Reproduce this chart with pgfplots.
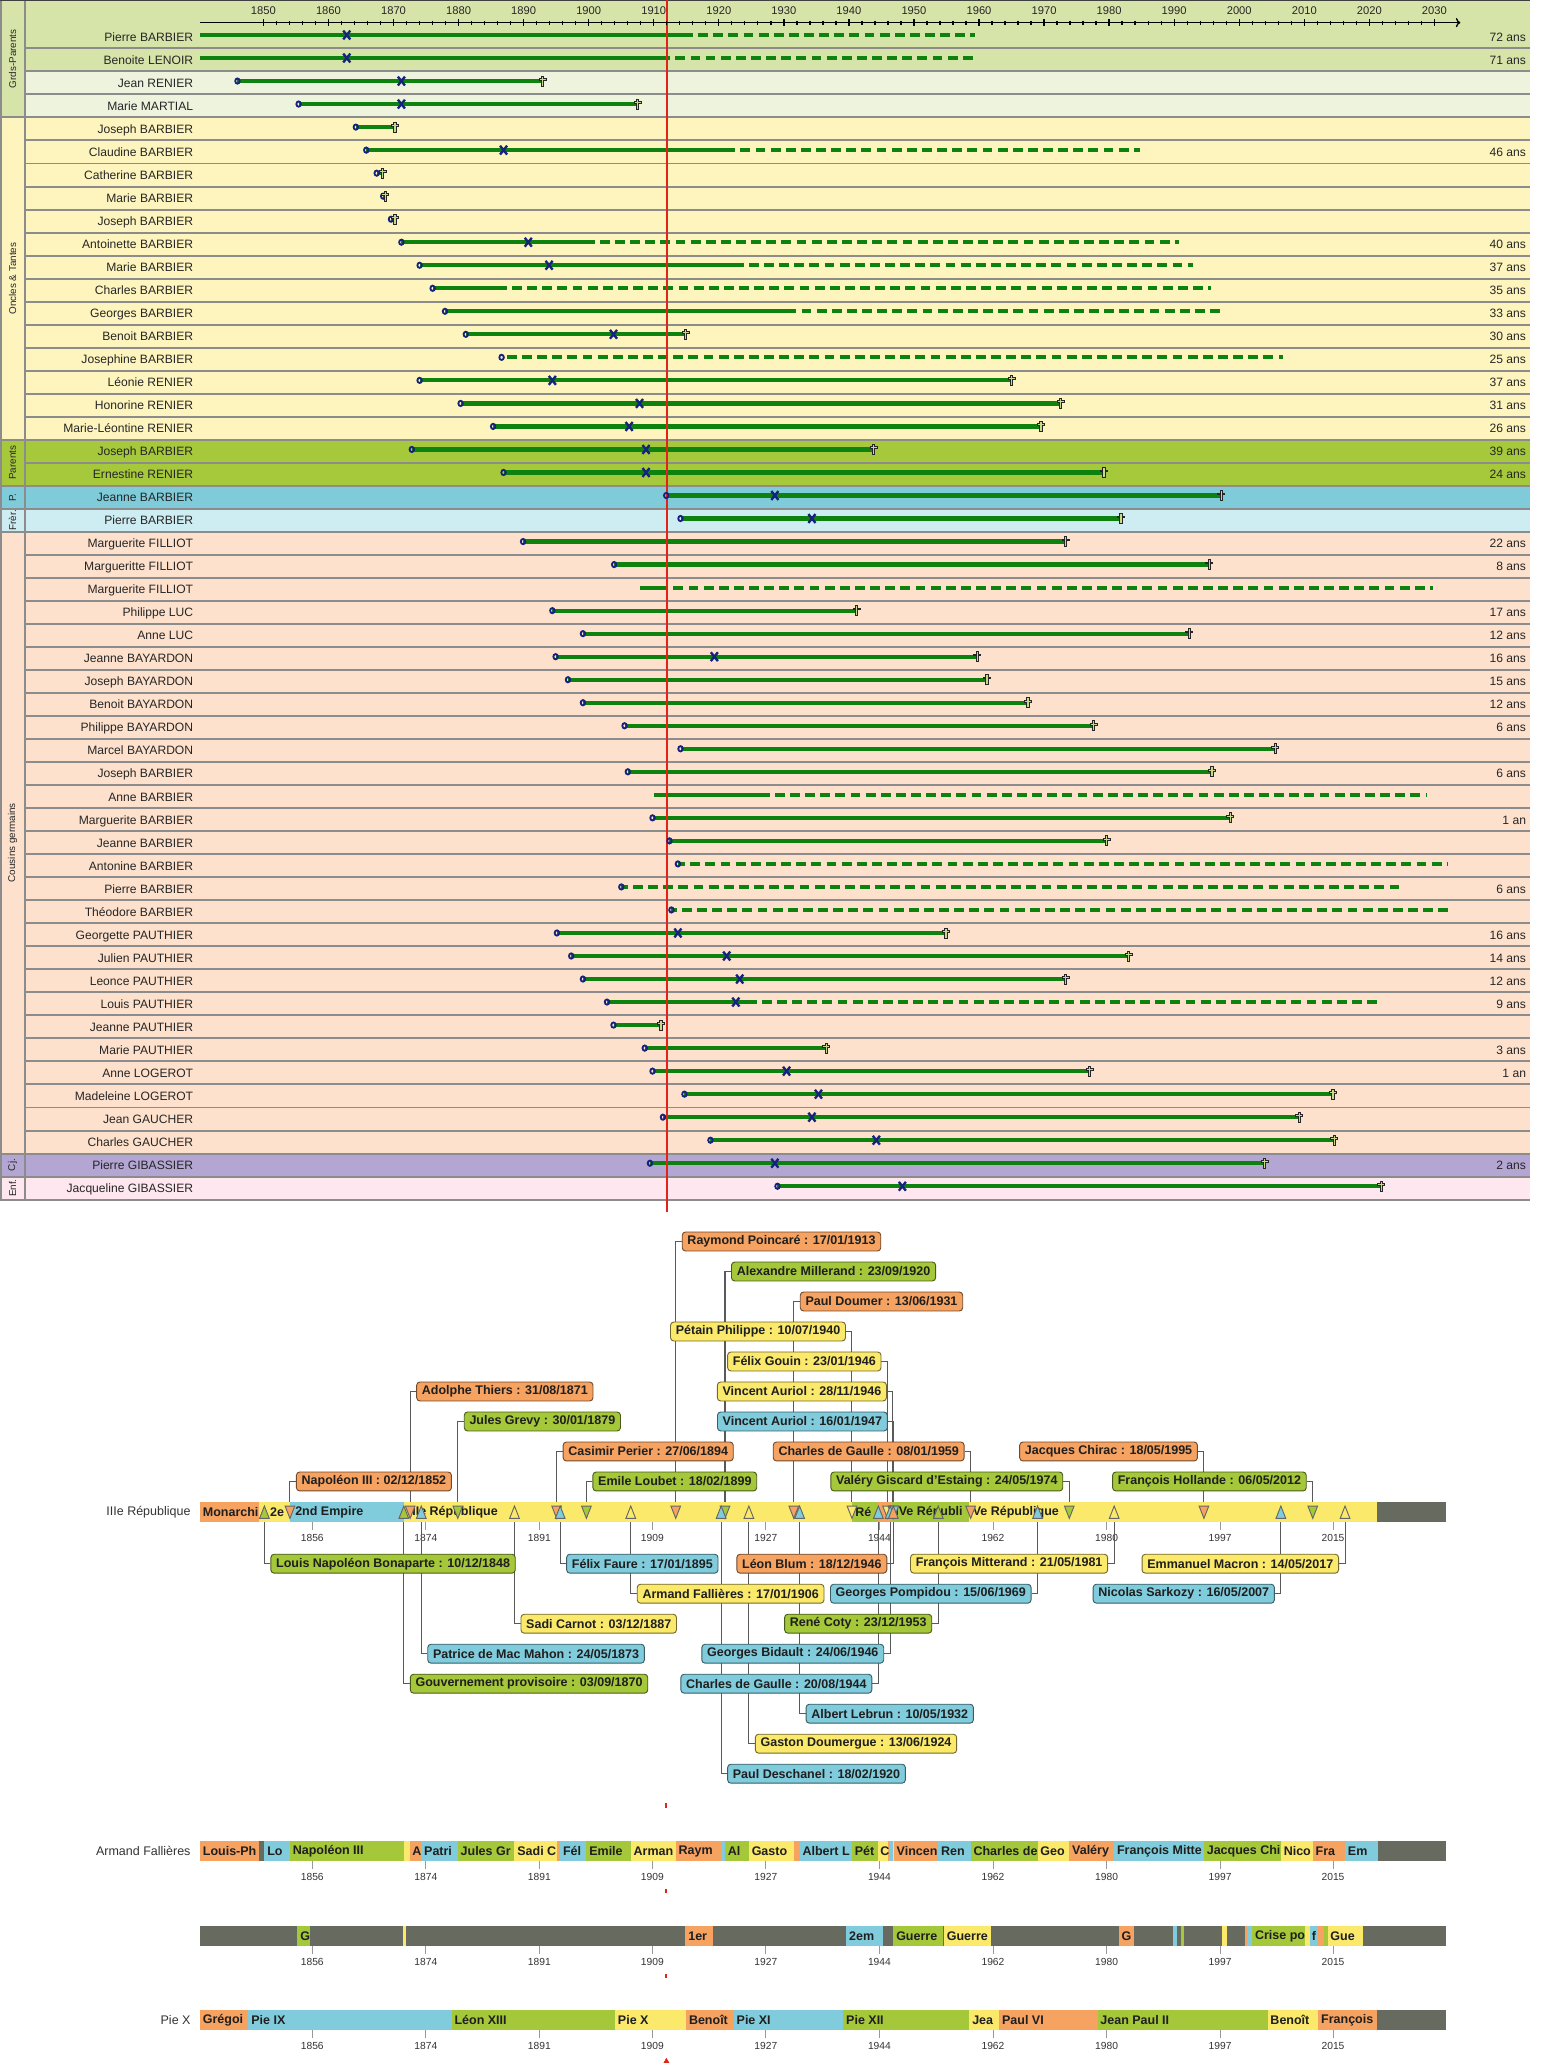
\documentclass[border=0pt]{standalone}
\usepackage{fontspec}
\setmainfont{Liberation Sans}
\usepackage{pgfplots}
\pgfplotsset{compat=1.18}
\usetikzlibrary{arrows.meta}

\definecolor{gpA}{HTML}{D7E4A9}
\definecolor{gpB}{HTML}{EEF3DE}
\definecolor{otC}{HTML}{FEF5BE}
\definecolor{parC}{HTML}{A6C83B}
\definecolor{ppC}{HTML}{7FCBDA}
\definecolor{frC}{HTML}{CDEDF3}
\definecolor{cgC}{HTML}{FDE1CC}
\definecolor{cjC}{HTML}{B3A6D3}
\definecolor{enfC}{HTML}{FEE7EF}
\definecolor{sepC}{HTML}{8C8C8C}
\definecolor{lgreen}{HTML}{0E820E}
\definecolor{navy}{HTML}{16237E}
\definecolor{crossfill}{HTML}{C9D98A}
\definecolor{cO}{HTML}{F6A261}
\definecolor{cG}{HTML}{A5C73A}
\definecolor{cB}{HTML}{80CCDC}
\definecolor{cY}{HTML}{FBE96B}
\definecolor{cK}{HTML}{676A5E}
\definecolor{redL}{HTML}{E2231A}

\pgfdeclareplotmark{lcross}{%
  \pgfpathmoveto{\pgfqpoint{-0.22\pgfplotmarksize}{-1\pgfplotmarksize}}%
  \pgfpathlineto{\pgfqpoint{0.22\pgfplotmarksize}{-1\pgfplotmarksize}}%
  \pgfpathlineto{\pgfqpoint{0.22\pgfplotmarksize}{0.15\pgfplotmarksize}}%
  \pgfpathlineto{\pgfqpoint{0.7\pgfplotmarksize}{0.15\pgfplotmarksize}}%
  \pgfpathlineto{\pgfqpoint{0.7\pgfplotmarksize}{0.5\pgfplotmarksize}}%
  \pgfpathlineto{\pgfqpoint{0.22\pgfplotmarksize}{0.5\pgfplotmarksize}}%
  \pgfpathlineto{\pgfqpoint{0.22\pgfplotmarksize}{1\pgfplotmarksize}}%
  \pgfpathlineto{\pgfqpoint{-0.22\pgfplotmarksize}{1\pgfplotmarksize}}%
  \pgfpathlineto{\pgfqpoint{-0.22\pgfplotmarksize}{0.5\pgfplotmarksize}}%
  \pgfpathlineto{\pgfqpoint{-0.7\pgfplotmarksize}{0.5\pgfplotmarksize}}%
  \pgfpathlineto{\pgfqpoint{-0.7\pgfplotmarksize}{0.15\pgfplotmarksize}}%
  \pgfpathlineto{\pgfqpoint{-0.22\pgfplotmarksize}{0.15\pgfplotmarksize}}%
  \pgfpathclose
  \pgfusepathqfillstroke}

\newcommand{\rect}[5]{\addplot[fill=#1, draw=none] coordinates {(#2,#3) (#4,#3) (#4,#5) (#2,#5)};}
\newcommand{\nm}[2]{\node[anchor=base east, inner sep=0pt, font=\fontsize{9.2}{10}\selectfont, text=black!85, yshift=-3.3pt] at (axis cs:1839.23,#1) {#2};}
\newcommand{\ag}[2]{\node[anchor=base east, inner sep=0pt, font=\fontsize{9.2}{10}\selectfont, text=black!85, yshift=-3.3pt] at (axis cs:2044.1,#1) {#2};}
\newcommand{\grp}[2]{\node[rotate=90, inner sep=0pt, font=\fontsize{7.5}{8}\selectfont, text=black!85] at (axis cs:1811.42,#1) {#2};}
\newcommand{\seg}[3]{\addplot[fill=#1, draw=none] coordinates {(#2,0) (#3,0) (#3,15.3) (#2,15.3)};}
\newcommand{\stx}[2]{\node[anchor=west, inner sep=0pt, font=\bfseries\fontsize{9.5}{10}\selectfont, text=black!88, xshift=2pt] at (axis cs:#1,7.65) {#2};}
\tikzset{lbl/.style={fill=#1, draw=#1!45!black, rounded corners=2.5pt, line width=0.7pt, inner xsep=4pt, inner ysep=0pt, minimum height=14.4pt, font=\bfseries\fontsize{9.5}{10}\selectfont, text=black!88}}
\newcommand{\bx}[5]{\node[lbl=#1, anchor=#2] at (axis cs:#3,#4) {#5};}
\newcommand{\leftlab}[1]{\node[anchor=east, inner sep=0pt, font=\fontsize{9.5}{10}\selectfont, text=black!80, xshift=-7pt] at (rel axis cs:0,0.5) {#1};}

\pgfplotsset{
  gline/.style={draw=lgreen, line width=3.2pt, yshift=1.4pt},
  gdash/.style={draw=lgreen, line width=3.2pt, dash pattern=on 7.5pt off 4pt, dash phase=7.5pt, yshift=1.4pt},
  bandax/.style={scale only axis, width=947pt, height=15.3pt, xmin=1838.9, xmax=2033.1, ymin=0, ymax=15.3,
    clip=false, axis y line=none, axis x line*=bottom, x axis line style={draw=none},
    tick align=outside, major tick length=6pt,
    xtick={1856.4,1874.1,1891.8,1909.4,1927.1,1944.8,1962.5,1980.2,1997.9,2015.5},
    xticklabels={1856,1874,1891,1909,1927,1944,1962,1980,1997,2015},
    xtick style={draw=black!40, line width=0.6pt},
    xticklabel style={font=\fontsize{7.8}{8}\selectfont, text=black!80},
    unbounded coords=jump}
}

\begin{document}
\begin{tikzpicture}[x=1pt,y=1pt]
\useasboundingbox (0pt,0pt) rectangle (1173pt,-1568pt);

% ================= TOP FAMILY CHART =================
\begin{axis}[at={(0pt,0pt)}, anchor=north west, scale only axis, width=1163pt, height=911.75pt,
  xmin=1809.5, xmax=2044.7, ymin=-0.6, ymax=51.5, y dir=reverse, hide axis, clip=false,
  unbounded coords=jump]
\rect{gpA}{1809.5}{-0.6}{2044.7}{2.5}
\rect{gpA}{1809.5}{2.5}{1813.34}{4.5}
\rect{gpB}{1813.34}{2.5}{2044.7}{4.5}
\rect{otC}{1809.5}{4.5}{2044.7}{18.5}
\rect{parC}{1809.5}{18.5}{2044.7}{20.5}
\rect{ppC}{1809.5}{20.5}{2044.7}{21.5}
\rect{frC}{1809.5}{21.5}{2044.7}{22.5}
\rect{cgC}{1809.5}{22.5}{2044.7}{49.5}
\rect{cjC}{1809.5}{49.5}{2044.7}{50.5}
\rect{enfC}{1809.5}{50.5}{2044.7}{51.5}
\pgfplotsinvokeforeach{1,...,50}{\addplot[sepC, line width=1.5pt] coordinates {(1813.34,#1.5) (2044.7,#1.5)};}
\addplot[sepC, line width=1.5pt] coordinates {(1809.5,4.5)(1813.34,4.5) (nan,nan) (1809.5,18.5)(1813.34,18.5) (nan,nan)
  (1809.5,20.5)(1813.34,20.5) (nan,nan) (1809.5,21.5)(1813.34,21.5) (nan,nan) (1809.5,22.5)(1813.34,22.5) (nan,nan)
  (1809.5,49.5)(1813.34,49.5) (nan,nan) (1809.5,50.5)(1813.34,50.5) (nan,nan) (1809.5,51.5)(2044.7,51.5) (nan,nan)
  (1813.34,-0.6)(1813.34,51.5) (nan,nan) (1809.6,-0.6)(1809.6,51.5)};
\addplot[black!75, line width=1.5pt] coordinates {(1809.5,-0.6)(2044.7,-0.6)};

\grp{1.95}{Grds-Parents}
\grp{11.5}{Oncles \& Tantes}
\grp{19.5}{Parents}
\grp{21}{P.}
\grp{22}{Frèr.}
\grp{36}{Cousins germains}
\grp{50}{Cj.}
\grp{51}{Enf.}

\nm{1}{Pierre BARBIER}
\nm{2}{Benoite LENOIR}
\nm{3}{Jean RENIER}
\nm{4}{Marie MARTIAL}
\nm{5}{Joseph BARBIER}
\nm{6}{Claudine BARBIER}
\nm{7}{Catherine BARBIER}
\nm{8}{Marie BARBIER}
\nm{9}{Joseph BARBIER}
\nm{10}{Antoinette BARBIER}
\nm{11}{Marie BARBIER}
\nm{12}{Charles BARBIER}
\nm{13}{Georges BARBIER}
\nm{14}{Benoit BARBIER}
\nm{15}{Josephine BARBIER}
\nm{16}{Léonie RENIER}
\nm{17}{Honorine RENIER}
\nm{18}{Marie-Léontine RENIER}
\nm{19}{Joseph BARBIER}
\nm{20}{Ernestine RENIER}
\nm{21}{Jeanne BARBIER}
\nm{22}{Pierre BARBIER}
\nm{23}{Marguerite FILLIOT}
\nm{24}{Margueritte FILLIOT}
\nm{25}{Marguerite FILLIOT}
\nm{26}{Philippe LUC}
\nm{27}{Anne LUC}
\nm{28}{Jeanne BAYARDON}
\nm{29}{Joseph BAYARDON}
\nm{30}{Benoit BAYARDON}
\nm{31}{Philippe BAYARDON}
\nm{32}{Marcel BAYARDON}
\nm{33}{Joseph BARBIER}
\nm{34}{Anne BARBIER}
\nm{35}{Marguerite BARBIER}
\nm{36}{Jeanne BARBIER}
\nm{37}{Antonine BARBIER}
\nm{38}{Pierre BARBIER}
\nm{39}{Théodore BARBIER}
\nm{40}{Georgette PAUTHIER}
\nm{41}{Julien PAUTHIER}
\nm{42}{Leonce PAUTHIER}
\nm{43}{Louis PAUTHIER}
\nm{44}{Jeanne PAUTHIER}
\nm{45}{Marie PAUTHIER}
\nm{46}{Anne LOGEROT}
\nm{47}{Madeleine LOGEROT}
\nm{48}{Jean GAUCHER}
\nm{49}{Charles GAUCHER}
\nm{50}{Pierre GIBASSIER}
\nm{51}{Jacqueline GIBASSIER}

\ag{1}{72 ans}\ag{2}{71 ans}\ag{6}{46 ans}\ag{10}{40 ans}\ag{11}{37 ans}\ag{12}{35 ans}
\ag{13}{33 ans}\ag{14}{30 ans}\ag{15}{25 ans}\ag{16}{37 ans}\ag{17}{31 ans}\ag{18}{26 ans}
\ag{19}{39 ans}\ag{20}{24 ans}\ag{23}{22 ans}\ag{24}{8 ans}\ag{26}{17 ans}\ag{27}{12 ans}
\ag{28}{16 ans}\ag{29}{15 ans}\ag{30}{12 ans}\ag{31}{6 ans}\ag{33}{6 ans}\ag{35}{1 an}
\ag{38}{6 ans}\ag{40}{16 ans}\ag{41}{14 ans}\ag{42}{12 ans}\ag{43}{9 ans}\ag{45}{3 ans}
\ag{46}{1 an}\ag{50}{2 ans}

% solid life lines
\addplot[gline] coordinates {
(1840.3,1)(1916.0,1) (nan,nan) (1840.3,2)(1912.5,2) (nan,nan) (1846.0,3)(1892.9,3) (nan,nan)
(1855.4,4)(1907.5,4) (nan,nan) (1864.2,5)(1870.2,5) (nan,nan) (1865.8,6)(1922.5,6) (nan,nan)
(1867.4,7)(1868.3,7) (nan,nan) (1868.4,8)(1868.7,8) (nan,nan) (1869.6,9)(1870.2,9) (nan,nan)
(1871.2,10)(1900.9,10) (nan,nan) (1874.0,11)(1923.8,11) (nan,nan) (1876.0,12)(1887.4,12) (nan,nan)
(1877.9,13)(1931.9,13) (nan,nan) (1881.1,14)(1914.9,14) (nan,nan) (1874.0,16)(1965.0,16) (nan,nan)
(1880.3,17)(1972.5,17) (nan,nan) (1885.3,18)(1969.5,18) (nan,nan) (1872.8,19)(1943.8,19) (nan,nan)
(1886.9,20)(1979.2,20) (nan,nan) (1911.9,21)(1997.2,21) (nan,nan) (1914.1,22)(1981.8,22) (nan,nan)
(1889.9,23)(1973.3,23) (nan,nan) (1903.9,24)(1995.4,24) (nan,nan) (1907.9,25)(1912.2,25) (nan,nan)
(1894.4,26)(1941.2,26) (nan,nan) (1899.1,27)(1992.3,27) (nan,nan) (1894.9,28)(1959.7,28) (nan,nan)
(1896.8,29)(1961.2,29) (nan,nan) (1899.1,30)(1967.5,30) (nan,nan) (1905.5,31)(1977.6,31) (nan,nan)
(1914.1,32)(2005.5,32) (nan,nan) (1906.0,33)(1995.8,33) (nan,nan) (1910.0,34)(1927.8,34) (nan,nan)
(1909.8,35)(1998.6,35) (nan,nan) (1912.4,36)(1979.6,36) (nan,nan) (1913.7,37)(1914.8,37) (nan,nan)
(1905.0,38)(1906.0,38) (nan,nan) (1912.7,39)(1913.5,39) (nan,nan) (1895.1,40)(1954.9,40) (nan,nan)
(1897.3,41)(1983.0,41) (nan,nan) (1899.1,42)(1973.3,42) (nan,nan) (1902.8,43)(1925.8,43) (nan,nan)
(1903.8,44)(1911.1,44) (nan,nan) (1908.6,45)(1936.5,45) (nan,nan) (1909.8,46)(1977.0,46) (nan,nan)
(1914.7,47)(2014.4,47) (nan,nan) (1911.4,48)(2009.2,48) (nan,nan) (1918.7,49)(2014.6,49) (nan,nan)
(1909.4,50)(2003.9,50) (nan,nan) (1929.0,51)(2021.8,51)};
% uncertain (dashed) extensions
\addplot[gdash] coordinates {
(1916.0,1)(1959.3,1) (nan,nan) (1912.5,2)(1959.7,2) (nan,nan) (1922.5,6)(1984.8,6) (nan,nan)
(1900.9,10)(1990.7,10) (nan,nan) (1923.8,11)(1992.8,11) (nan,nan) (1887.4,12)(1995.6,12) (nan,nan)
(1931.9,13)(1997.0,13) (nan,nan) (1886.6,15)(2006.7,15) (nan,nan) (1912.2,25)(2029.8,25) (nan,nan)
(1927.8,34)(2028.8,34) (nan,nan) (1914.8,37)(2032.0,37) (nan,nan) (1906.0,38)(2024.7,38) (nan,nan)
(1913.5,39)(2032.6,39) (nan,nan) (1925.8,43)(2021.5,43)};

\addplot[redL, line width=1.4pt] coordinates {(1912.0,-0.6)(1912.0,52.02)};

% births
\addplot[only marks, mark=o, mark size=2pt, color=navy, line width=1.4pt, yshift=1.4pt, mark options={xscale=0.85}] coordinates {
(1846.0,3) (1855.4,4) (1864.2,5) (1865.8,6) (1867.4,7) (1868.4,8) (1869.6,9) (1871.2,10) (1874.0,11)
(1876.0,12) (1877.9,13) (1881.1,14) (1886.6,15) (1874.0,16) (1880.3,17) (1885.3,18) (1872.8,19)
(1886.9,20) (1911.9,21) (1914.1,22) (1889.9,23) (1903.9,24) (1894.4,26) (1899.1,27) (1894.9,28)
(1896.8,29) (1899.1,30) (1905.5,31) (1914.1,32) (1906.0,33) (1909.8,35) (1912.4,36) (1913.7,37)
(1905.0,38) (1912.7,39) (1895.1,40) (1897.3,41) (1899.1,42) (1902.8,43) (1903.8,44) (1908.6,45)
(1909.8,46) (1914.7,47) (1911.4,48) (1918.7,49) (1909.4,50) (1929.0,51)};
% marriages
\addplot[only marks, mark=x, mark size=3.8pt, color=navy, line width=1.8pt, yshift=1.4pt, mark options={yscale=1.25}] coordinates {
(1862.8,1) (1862.8,2) (1871.2,3) (1871.2,4) (1886.9,6) (1890.7,10) (1893.9,11) (1903.8,14) (1894.4,16)
(1907.8,17) (1906.2,18) (1908.8,19) (1908.8,20) (1928.6,21) (1934.3,22) (1919.3,28) (1913.7,40)
(1921.2,41) (1923.2,42) (1922.6,43) (1930.4,46) (1935.3,47) (1934.3,48) (1944.2,49) (1928.6,50) (1948.2,51)};
% deaths
\addplot[only marks, mark=lcross, mark size=3.8pt, yshift=1.4pt, mark options={fill=crossfill, draw=black!85, line width=0.7pt}] coordinates {
(1892.9,3) (1907.5,4) (1870.2,5) (1868.3,7) (1868.7,8) (1870.2,9) (1914.9,14) (1965.0,16) (1972.5,17)
(1969.5,18) (1943.8,19) (1979.2,20) (1997.2,21) (1981.8,22) (1973.3,23) (1995.4,24) (1941.2,26)
(1992.3,27) (1959.7,28) (1961.2,29) (1967.5,30) (1977.6,31) (2005.5,32) (1995.8,33) (1998.6,35)
(1979.6,36) (1954.9,40) (1983.0,41) (1973.3,42) (1911.1,44) (1936.5,45) (1977.0,46) (2014.4,47)
(2009.2,48) (2014.6,49) (2003.9,50) (2021.8,51)};
\end{axis}

% year scale of the family chart
\begin{axis}[at={(152pt,-17.2pt)}, anchor=north west, scale only axis, width=958pt, height=2pt,
  xmin=1840.25, xmax=2034.0, ymin=0, ymax=1, axis x line=top, axis y line=none,
  x axis line style={line width=1pt, -{To[length=3.5pt,width=7pt]}},
  xtick={1850,1860,...,2030}, minor x tick num=4, tick align=center,
  major tick length=5pt, minor tick length=3pt, tick style={black, line width=1pt},
  xticklabel style={font=\fontsize{8.5}{9}\selectfont, text=black!85, /pgf/number format/1000 sep={}, /pgf/number format/assume math mode=true}]
\addplot[draw=none] coordinates {(1900,0.5)};
\end{axis}

% ================= HEADS OF STATE =================
\begin{axis}[bandax, at={(152pt,-1157pt)}, anchor=south west]
\seg{cO}{1838.9}{1848.15}
\seg{cY}{1848.15}{1852.92}
\seg{cB}{1852.92}{1870.67}
\seg{cY}{1870.67}{1940.52}
\seg{cG}{1940.52}{1944.63}
\seg{cO}{1944.63}{1946.82}
\seg{cG}{1946.82}{1958.76}
\seg{cY}{1958.76}{2022.4}
\seg{cK}{2022.4}{2033.1}
\stx{1838.9}{Monarchi}
\stx{1849.4}{2e}
\stx{1853.3}{2nd Empire}
\stx{1871.0}{IIIe République}
\stx{1940.6}{Ré}
\stx{1946.82}{IVe Républi}
\stx{1958.9}{Ve République}
\leftlab{IIIe République}
% connectors
\addplot[black!65, line width=0.8pt] coordinates {
(1852.92,15.3)(1852.92,31)(1853.86,31) (nan,nan)
(1899.13,15.3)(1899.13,31)(1900.07,31) (nan,nan)
(1974.39,15.3)(1974.39,31)(1973.45,31) (nan,nan)
(2012.34,15.3)(2012.34,31)(2011.40,31) (nan,nan)
(1894.49,15.3)(1894.49,53.8)(1895.43,53.8) (nan,nan)
(1959.02,15.3)(1959.02,53.8)(1958.08,53.8) (nan,nan)
(1995.38,15.3)(1995.38,53.8)(1994.44,53.8) (nan,nan)
(1879.08,15.3)(1879.08,76.6)(1880.02,76.6) (nan,nan)
(1947.04,15.3)(1947.04,76.6)(1946.10,76.6) (nan,nan)
(1871.66,15.3)(1871.66,99.4)(1872.60,99.4) (nan,nan)
(1946.91,15.3)(1946.91,99.4)(1945.97,99.4) (nan,nan)
(1946.06,15.3)(1946.06,122.2)(1945.12,122.2) (nan,nan)
(1940.52,15.3)(1940.52,145)(1939.58,145) (nan,nan)
(1931.45,15.3)(1931.45,167.8)(1932.39,167.8) (nan,nan)
(1920.73,15.3)(1920.73,190.6)(1921.67,190.6) (nan,nan)
(1913.05,15.3)(1913.05,213.4)(1913.99,213.4) (nan,nan)
(1848.94,0)(1848.94,-31.5)(1849.88,-31.5) (nan,nan)
(1895.04,0)(1895.04,-31.5)(1895.98,-31.5) (nan,nan)
(1946.96,0)(1946.96,-31.5)(1946.02,-31.5) (nan,nan)
(1981.39,0)(1981.39,-31.5)(1980.45,-31.5) (nan,nan)
(2017.37,0)(2017.37,-31.5)(2016.43,-31.5) (nan,nan)
(1906.04,0)(1906.04,-54.3)(1906.98,-54.3) (nan,nan)
(1969.45,0)(1969.45,-54.3)(1968.51,-54.3) (nan,nan)
(2007.37,0)(2007.37,-54.3)(2006.43,-54.3) (nan,nan)
(1887.92,0)(1887.92,-77.1)(1888.86,-77.1) (nan,nan)
(1953.97,0)(1953.97,-77.1)(1953.03,-77.1) (nan,nan)
(1873.39,0)(1873.39,-99.9)(1874.33,-99.9) (nan,nan)
(1946.48,0)(1946.48,-99.9)(1945.54,-99.9) (nan,nan)
(1870.67,0)(1870.67,-122.7)(1871.61,-122.7) (nan,nan)
(1944.63,0)(1944.63,-122.7)(1943.69,-122.7) (nan,nan)
(1932.36,0)(1932.36,-145.5)(1933.30,-145.5) (nan,nan)
(1924.45,0)(1924.45,-168.3)(1925.39,-168.3) (nan,nan)
(1920.13,0)(1920.13,-191.1)(1921.07,-191.1)};
% triangles: down (labels above)
\addplot[only marks, mark=triangle*, mark size=5pt, mark options={rotate=180, xscale=0.85, yscale=1.25, fill=cO, draw=black!60, line width=0.7pt}] coordinates {(1852.92,9.2)(1871.66,9.2)(1894.49,9.2)(1913.05,9.2)(1931.45,9.2)(1959.02,9.2)(1995.38,9.2)};
\addplot[only marks, mark=triangle*, mark size=5pt, mark options={rotate=180, xscale=0.85, yscale=1.25, fill=cG, draw=black!60, line width=0.7pt}] coordinates {(1879.08,9.2)(1899.13,9.2)(1920.73,9.2)(1974.39,9.2)(2012.34,9.2)};
\addplot[only marks, mark=triangle*, mark size=5pt, mark options={rotate=180, xscale=0.85, yscale=1.25, fill=cY, draw=black!60, line width=0.7pt}] coordinates {(1940.52,9.2)(1946.06,9.2)(1946.91,9.2)};
\addplot[only marks, mark=triangle*, mark size=5pt, mark options={rotate=180, xscale=0.85, yscale=1.25, fill=cB, draw=black!60, line width=0.7pt}] coordinates {(1947.04,9.2)};
% triangles: up (labels below)
\addplot[only marks, mark=triangle*, mark size=5pt, mark options={xscale=0.85, yscale=1.25, fill=cG, draw=black!60, line width=0.7pt}] coordinates {(1848.94,6.1)(1870.67,6.1)(1953.97,6.1)};
\addplot[only marks, mark=triangle*, mark size=5pt, mark options={xscale=0.85, yscale=1.25, fill=cB, draw=black!60, line width=0.7pt}] coordinates {(1873.39,6.1)(1895.04,6.1)(1920.13,6.1)(1932.36,6.1)(1944.63,6.1)(1946.48,6.1)(1969.45,6.1)(2007.37,6.1)};
\addplot[only marks, mark=triangle*, mark size=5pt, mark options={xscale=0.85, yscale=1.25, fill=cY, draw=black!60, line width=0.7pt}] coordinates {(1887.92,6.1)(1906.04,6.1)(1924.45,6.1)(1981.39,6.1)(2017.37,6.1)};
\addplot[only marks, mark=triangle*, mark size=5pt, mark options={xscale=0.85, yscale=1.25, fill=cO, draw=black!60, line width=0.7pt}] coordinates {(1946.96,6.1)};
% label boxes
\bx{cO}{west}{1853.86}{31}{Napoléon III : 02/12/1852}
\bx{cG}{west}{1900.07}{31}{Emile Loubet : 18/02/1899}
\bx{cG}{east}{1973.45}{31}{Valéry Giscard d'Estaing : 24/05/1974}
\bx{cG}{east}{2011.40}{31}{François Hollande : 06/05/2012}
\bx{cO}{west}{1895.43}{53.8}{Casimir Perier : 27/06/1894}
\bx{cO}{east}{1958.08}{53.8}{Charles de Gaulle : 08/01/1959}
\bx{cO}{east}{1994.44}{53.8}{Jacques Chirac : 18/05/1995}
\bx{cG}{west}{1880.02}{76.6}{Jules Grevy : 30/01/1879}
\bx{cB}{east}{1946.10}{76.6}{Vincent Auriol : 16/01/1947}
\bx{cO}{west}{1872.60}{99.4}{Adolphe Thiers : 31/08/1871}
\bx{cY}{east}{1945.97}{99.4}{Vincent Auriol : 28/11/1946}
\bx{cY}{east}{1945.12}{122.2}{Félix Gouin : 23/01/1946}
\bx{cY}{east}{1939.58}{145}{Pétain Philippe : 10/07/1940}
\bx{cO}{west}{1932.39}{167.8}{Paul Doumer : 13/06/1931}
\bx{cG}{west}{1921.67}{190.6}{Alexandre Millerand : 23/09/1920}
\bx{cO}{west}{1913.99}{213.4}{Raymond Poincaré : 17/01/1913}
\bx{cG}{west}{1849.88}{-31.5}{Louis Napoléon Bonaparte : 10/12/1848}
\bx{cB}{west}{1895.98}{-31.5}{Félix Faure : 17/01/1895}
\bx{cO}{east}{1946.02}{-31.5}{Léon Blum : 18/12/1946}
\bx{cY}{east}{1980.45}{-31.5}{François Mitterand : 21/05/1981}
\bx{cY}{east}{2016.43}{-31.5}{Emmanuel Macron : 14/05/2017}
\bx{cY}{west}{1906.98}{-54.3}{Armand Fallières : 17/01/1906}
\bx{cB}{east}{1968.51}{-54.3}{Georges Pompidou : 15/06/1969}
\bx{cB}{east}{2006.43}{-54.3}{Nicolas Sarkozy : 16/05/2007}
\bx{cY}{west}{1888.86}{-77.1}{Sadi Carnot : 03/12/1887}
\bx{cG}{east}{1953.03}{-77.1}{René Coty : 23/12/1953}
\bx{cB}{west}{1874.33}{-99.9}{Patrice de Mac Mahon : 24/05/1873}
\bx{cB}{east}{1945.54}{-99.9}{Georges Bidault : 24/06/1946}
\bx{cG}{west}{1871.61}{-122.7}{Gouvernement provisoire : 03/09/1870}
\bx{cB}{east}{1943.69}{-122.7}{Charles de Gaulle : 20/08/1944}
\bx{cB}{west}{1933.30}{-145.5}{Albert Lebrun : 10/05/1932}
\bx{cY}{west}{1925.39}{-168.3}{Gaston Doumergue : 13/06/1924}
\bx{cB}{west}{1921.07}{-191.1}{Paul Deschanel : 18/02/1920}
\addplot[redL, line width=1.6pt] coordinates {(1911.6,-213.7)(1911.6,-217.5)};
\end{axis}

% ================= PRESIDENTS BAND =================
\begin{axis}[bandax, at={(152pt,-1414.5pt)}, anchor=south west]
\seg{cO}{1838.9}{1848.15}
\seg{cK}{1848.15}{1848.94}
\seg{cB}{1848.94}{1852.92}
\seg{cG}{1852.92}{1870.67}
\seg{cY}{1870.67}{1871.66}
\seg{cO}{1871.66}{1873.39}
\seg{cB}{1873.39}{1879.08}
\seg{cG}{1879.08}{1887.92}
\seg{cY}{1887.92}{1894.49}
\seg{cO}{1894.49}{1895.04}
\seg{cB}{1895.04}{1899.13}
\seg{cG}{1899.13}{1906.04}
\seg{cY}{1906.04}{1913.05}
\seg{cO}{1913.05}{1920.13}
\seg{cB}{1920.13}{1920.73}
\seg{cG}{1920.73}{1924.45}
\seg{cY}{1924.45}{1931.45}
\seg{cO}{1931.45}{1932.36}
\seg{cB}{1932.36}{1940.52}
\seg{cG}{1940.52}{1944.63}
\seg{cY}{1944.63}{1946.06}
\seg{cO}{1946.06}{1946.48}
\seg{cB}{1946.48}{1946.91}
\seg{cG}{1946.91}{1946.96}
\seg{cY}{1946.96}{1947.04}
\seg{cO}{1947.04}{1953.97}
\seg{cB}{1953.97}{1959.02}
\seg{cG}{1959.02}{1969.45}
\seg{cY}{1969.45}{1974.39}
\seg{cO}{1974.39}{1981.39}
\seg{cB}{1981.39}{1995.38}
\seg{cG}{1995.38}{2007.37}
\seg{cY}{2007.37}{2012.34}
\seg{cO}{2012.34}{2017.37}
\seg{cB}{2017.37}{2022.45}
\seg{cK}{2022.45}{2033.1}
\stx{1838.9}{Louis-Ph}
\stx{1848.94}{Lo}
\stx{1852.92}{Napoléon III}
\stx{1871.55}{A}
\stx{1873.39}{Patri}
\stx{1879.08}{Jules Gr}
\stx{1887.92}{Sadi C}
\stx{1895.04}{Fél}
\stx{1899.13}{Emile}
\stx{1906.04}{Arman}
\stx{1913.05}{Raym}
\stx{1920.73}{Al}
\stx{1924.45}{Gasto}
\stx{1932.36}{Albert L}
\stx{1940.52}{Pét}
\stx{1944.5}{C}
\stx{1947.04}{Vincen}
\stx{1953.97}{Ren}
\stx{1959.02}{Charles de}
\stx{1969.45}{Geo}
\stx{1974.39}{Valéry}
\stx{1981.39}{François Mitte}
\stx{1995.38}{Jacques Chi}
\stx{2007.37}{Nico}
\stx{2012.34}{Fra}
\stx{2017.37}{Em}
\leftlab{Armand Fallières}
\addplot[redL, line width=1.6pt] coordinates {(1911.6,-21)(1911.6,-24.5)};
\end{axis}

% ================= EVENTS BAND =================
\begin{axis}[bandax, at={(152pt,-1479pt)}, anchor=south west]
\seg{cK}{1838.9}{2033.1}
\seg{cG}{1854.08}{1856.07}
\seg{cY}{1870.55}{1871.08}
\seg{cO}{1914.56}{1918.85}
\seg{cB}{1939.64}{1945.32}
\seg{cG}{1946.97}{1954.64}
\seg{cY}{1954.86}{1962.12}
\seg{cO}{1982.08}{1984.44}
\seg{cB}{1990.59}{1991.23}
\seg{cG}{1991.86}{1992.33}
\seg{cY}{1998.18}{1999.04}
\seg{cO}{2001.8}{2002.1}
\seg{cB}{2002.1}{2002.9}
\seg{cG}{2002.9}{2011.18}
\seg{cY}{2011.18}{2011.9}
\seg{cB}{2011.9}{2013.15}
\seg{cO}{2013.15}{2014.1}
\seg{cG}{2014.1}{2014.65}
\seg{cY}{2014.65}{2020.1}
\stx{1854.08}{G}
\stx{1914.56}{1er}
\stx{1939.64}{2em}
\stx{1946.97}{Guerre}
\stx{1954.86}{Guerre}
\stx{1982.08}{G}
\stx{2002.9}{Crise po}
\stx{2011.75}{f}
\stx{2014.65}{Gue}
\addplot[redL, line width=1.6pt] coordinates {(1911.6,-21)(1911.6,-24.5)};
\end{axis}

% ================= POPES BAND =================
\begin{axis}[bandax, at={(152pt,-1543pt)}, anchor=south west]
\seg{cO}{1838.9}{1846.45}
\seg{cB}{1846.45}{1878.13}
\seg{cG}{1878.13}{1903.6}
\seg{cY}{1903.6}{1914.67}
\seg{cO}{1914.67}{1922.1}
\seg{cB}{1922.1}{1939.17}
\seg{cG}{1939.17}{1958.82}
\seg{cY}{1958.82}{1963.47}
\seg{cO}{1963.47}{1978.79}
\seg{cG}{1978.79}{2005.3}
\seg{cY}{2005.3}{2013.2}
\seg{cO}{2013.2}{2022.4}
\seg{cK}{2022.4}{2033.1}
\stx{1838.9}{Grégoi}
\stx{1846.45}{Pie IX}
\stx{1878.13}{Léon XIII}
\stx{1903.6}{Pie X}
\stx{1914.67}{Benoît}
\stx{1922.1}{Pie XI}
\stx{1939.17}{Pie XII}
\stx{1958.82}{Jea}
\stx{1963.47}{Paul VI}
\stx{1978.79}{Jean Paul II}
\stx{2005.3}{Benoît}
\stx{2013.2}{François}
\leftlab{Pie X}
\addplot[only marks, mark=triangle*, mark size=4pt, color=redL] coordinates {(1911.6,-25.5)};
\end{axis}
\end{tikzpicture}
\end{document}
